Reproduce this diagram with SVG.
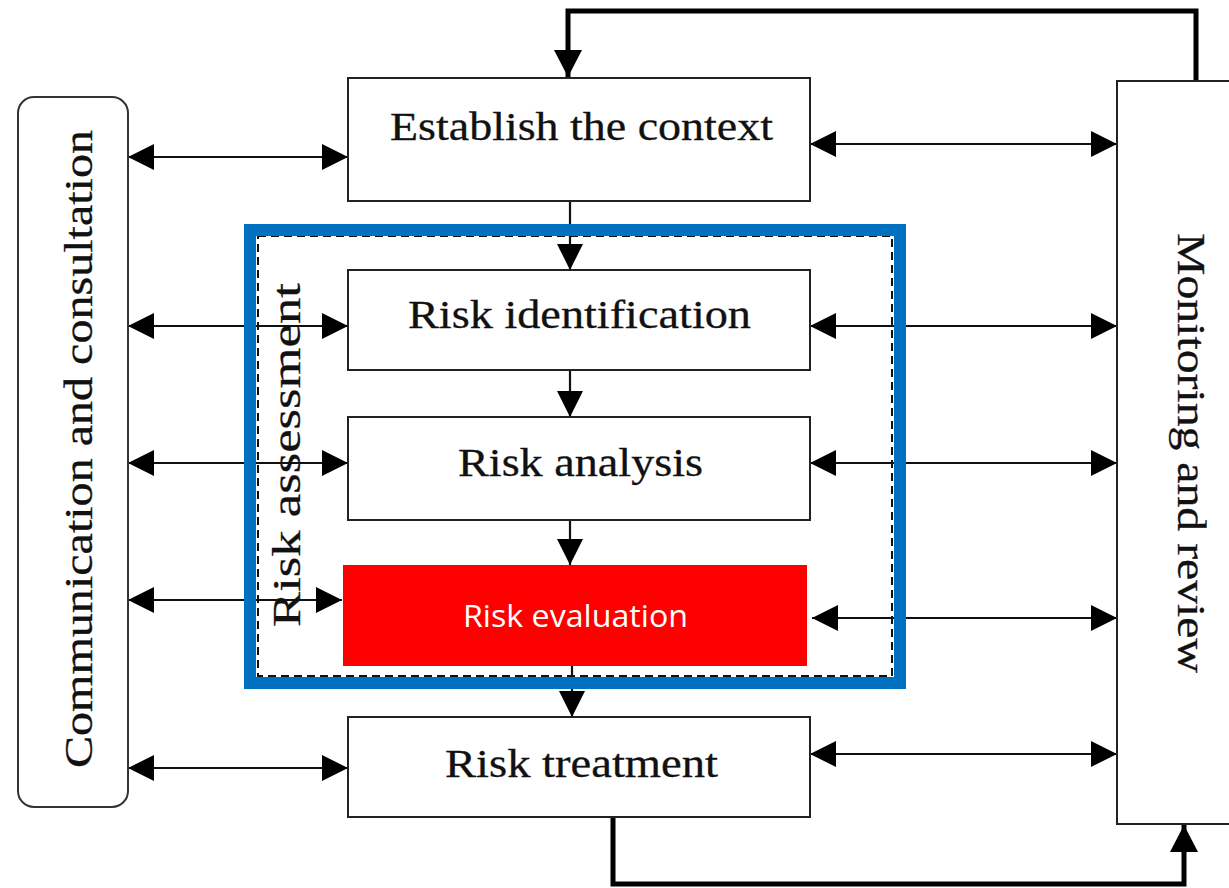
<svg xmlns="http://www.w3.org/2000/svg" width="1229" height="888" viewBox="0 0 1229 888">
<style>
.box{fill:#fff;stroke:#222;stroke-width:2}
.conn{fill:none;stroke:#111;stroke-width:2.2}
.loop{fill:none;stroke:#000;stroke-width:5}
.lbl{font-family:"Liberation Serif","Times New Roman",serif;font-size:39px;fill:#111;stroke:#111;stroke-width:0.3}
.ev{font-family:"Open Sans","Liberation Sans",sans-serif;font-size:31px;fill:#fff}
</style>
<defs>
<marker id="ah" markerUnits="userSpaceOnUse" markerWidth="27" markerHeight="28" refX="26" refY="14" orient="auto-start-reverse" viewBox="0 0 27 28">
<path d="M0,1 L26,14 L0,27 z" fill="#000"/>
</marker>
<marker id="ahb" markerUnits="userSpaceOnUse" markerWidth="28" markerHeight="28" refX="27" refY="14" orient="auto" viewBox="0 0 28 28">
<path d="M0,0 L27,14 L0,28 z" fill="#000"/>
</marker>
</defs>

<g id="connectors">
<line class="conn" x1="128" y1="157" x2="348" y2="157" marker-start="url(#ah)" marker-end="url(#ah)"/>
<line class="conn" x1="128" y1="326" x2="348" y2="326" marker-start="url(#ah)" marker-end="url(#ah)"/>
<line class="conn" x1="128" y1="463" x2="348" y2="463" marker-start="url(#ah)" marker-end="url(#ah)"/>
<line class="conn" x1="128" y1="600" x2="342" y2="600" marker-start="url(#ah)" marker-end="url(#ah)"/>
<line class="conn" x1="128" y1="768" x2="348" y2="768" marker-start="url(#ah)" marker-end="url(#ah)"/>
<line class="conn" x1="810" y1="144" x2="1117" y2="144" marker-start="url(#ah)" marker-end="url(#ah)"/>
<line class="conn" x1="810" y1="326" x2="1117" y2="326" marker-start="url(#ah)" marker-end="url(#ah)"/>
<line class="conn" x1="810" y1="463" x2="1117" y2="463" marker-start="url(#ah)" marker-end="url(#ah)"/>
<line class="conn" x1="812" y1="618" x2="1117" y2="618" marker-start="url(#ah)" marker-end="url(#ah)"/>
<line class="conn" x1="810" y1="754" x2="1117" y2="754" marker-start="url(#ah)" marker-end="url(#ah)"/>
<line class="conn" x1="570" y1="201" x2="570" y2="270" marker-end="url(#ah)"/>
<line class="conn" x1="570" y1="370" x2="570" y2="417" marker-end="url(#ah)"/>
<line class="conn" x1="570" y1="520" x2="570" y2="565" marker-end="url(#ah)"/>
<line class="conn" x1="572" y1="666" x2="572" y2="717" marker-end="url(#ah)"/>
<path class="loop" d="M1196,81 V11 H568 V77" marker-end="url(#ahb)"/>
<path class="loop" d="M613,817 V884 H1184 V825" marker-end="url(#ahb)"/>
</g>

<g id="communication">
<rect class="box" x="18" y="97" width="110" height="710" rx="16" ry="16" style="stroke:#333"/>
<text class="lbl" transform="translate(92,768) rotate(-90)" textLength="638" lengthAdjust="spacingAndGlyphs">Communication and consultation</text>
</g>

<g id="monitoring">
<rect class="box" x="1117" y="81" width="130" height="743"/>
<text class="lbl" transform="translate(1178,233) rotate(90)" textLength="440" lengthAdjust="spacingAndGlyphs">Monitoring and review</text>
</g>

<g id="establish">
<rect class="box" x="348" y="78" width="462" height="123"/>
<text class="lbl" x="390" y="140" textLength="383" lengthAdjust="spacingAndGlyphs">Establish the context</text>
</g>

<g id="identification">
<rect class="box" x="348" y="270" width="462" height="100"/>
<text class="lbl" x="408" y="328" textLength="343" lengthAdjust="spacingAndGlyphs">Risk identification</text>
</g>

<g id="analysis">
<rect class="box" x="348" y="417" width="462" height="103"/>
<text class="lbl" x="458" y="476" textLength="245" lengthAdjust="spacingAndGlyphs">Risk analysis</text>
</g>

<g id="evaluation">
<rect x="343" y="565" width="464" height="101" fill="#ff0000"/>
<text class="ev" x="463" y="627" textLength="225" lengthAdjust="spacingAndGlyphs">Risk evaluation</text>
</g>

<g id="treatment">
<rect class="box" x="348" y="717" width="462" height="100"/>
<text class="lbl" x="445" y="777" textLength="273" lengthAdjust="spacingAndGlyphs">Risk treatment</text>
</g>

<g id="assessment">
<rect x="258" y="236" width="634" height="440" fill="none" stroke="#111" stroke-width="2" stroke-dasharray="8 5"/>
<rect x="250" y="230" width="650" height="453" fill="none" stroke="#0070c0" stroke-width="12"/>
<text class="lbl" transform="translate(300,627) rotate(-90)" textLength="344" lengthAdjust="spacingAndGlyphs">Risk assessment</text>
</g>
</svg>
